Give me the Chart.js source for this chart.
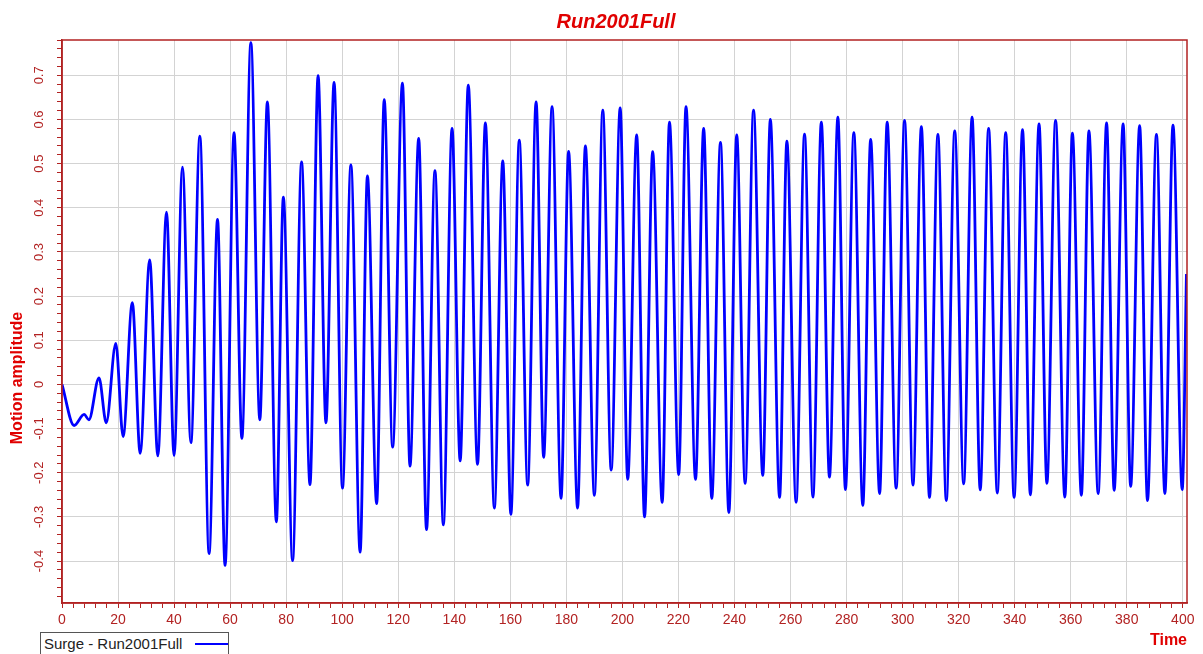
<!DOCTYPE html>
<html>
<head>
<meta charset="utf-8">
<title>Run2001Full</title>
<script src="https://cdn.jsdelivr.net/npm/chart.js@4.4.0/dist/chart.umd.min.js"></script>
<style>
  html, body { margin: 0; padding: 0; background: #fff; overflow: hidden; }
  #wrap { position: relative; width: 1203px; height: 654px; }
  #legend {
    position: absolute; left: 40px; top: 632px; width: 189px; height: 26px;
    border: 1px solid #555; background: #fff; box-sizing: border-box;
    font: 15px Arial, 'Liberation Sans', sans-serif; color: #222;
  }
  #legend .txt { position: absolute; left: 3px; top: 2px; line-height: 18px; white-space: nowrap; }
  #legend .swatch { position: absolute; left: 154px; top: 10px; width: 33px; height: 2px; }
</style>
</head>
<body>
<div id="wrap">
  <canvas id="myChart" width="1203" height="654"></canvas>
  <div id="legend"></div>
</div>
<script>
// time of each turning point of the surge trace, and its value there
const times = [
  0, 4.3, 7.9, 9.6, 13.2, 15.8, 19.2, 21.8, 25.1, 27.9,
  31.3, 34.2, 37.3, 40, 43, 46, 49.2, 52.5, 55.5, 58.2,
  61.4, 64.2, 67.4, 70.6, 73.3, 76.5, 79, 82.3, 85.5, 88.5,
  91.4, 94.2, 97.1, 100.1, 103.1, 106.4, 109, 112.3, 115, 118,
  121.5, 124.2, 127.3, 130.1, 133.1, 136.1, 139.2, 142.1, 145, 148.3,
  151.1, 154.3, 157.3, 160.2, 163.2, 166.2, 169.2, 171.9, 174.9, 178.1,
  180.8, 184, 186.8, 190, 193, 196, 199.2, 201.9, 205.1, 207.9,
  210.8, 214.2, 216.8, 220.1, 222.7, 226.1, 229, 231.9, 235, 238,
  240.8, 243.8, 246.8, 250.1, 252.8, 256.1, 258.7, 262, 265, 268,
  271, 273.9, 276.9, 279.6, 282.6, 285.8, 288.6, 291.8, 294.5, 297.7,
  300.7, 303.7, 306.7, 309.6, 312.6, 315.6, 318.6, 321.8, 324.8, 327.7,
  330.7, 333.8, 336.8, 339.8, 342.8, 345.6, 348.7, 351.5, 354.6, 357.9,
  360.6, 363.8, 366.5, 369.8, 372.8, 375.5, 378.7, 381.4, 384.6, 387.4,
  390.6, 393.6, 396.5, 399.8, 401.3
];
const surge = [
  0, -0.093, -0.068, -0.08, 0.015, -0.087, 0.093, -0.118, 0.185, -0.156,
  0.282, -0.162, 0.39, -0.161, 0.492, -0.132, 0.562, -0.383, 0.374, -0.41,
  0.57, -0.122, 0.774, -0.08, 0.64, -0.311, 0.424, -0.399, 0.504, -0.227,
  0.699, -0.087, 0.684, -0.235, 0.497, -0.38, 0.472, -0.27, 0.645, -0.142,
  0.682, -0.185, 0.557, -0.329, 0.484, -0.318, 0.58, -0.173, 0.678, -0.181,
  0.592, -0.28, 0.506, -0.294, 0.553, -0.228, 0.64, -0.165, 0.629, -0.258,
  0.528, -0.28, 0.54, -0.251, 0.621, -0.194, 0.626, -0.215, 0.565, -0.3,
  0.527, -0.267, 0.594, -0.204, 0.629, -0.215, 0.58, -0.258, 0.548, -0.29,
  0.565, -0.224, 0.621, -0.206, 0.6, -0.256, 0.551, -0.267, 0.567, -0.255,
  0.594, -0.21, 0.605, -0.238, 0.57, -0.274, 0.555, -0.247, 0.594, -0.235,
  0.598, -0.228, 0.584, -0.256, 0.566, -0.263, 0.574, -0.225, 0.605, -0.239,
  0.58, -0.246, 0.57, -0.256, 0.577, -0.25, 0.59, -0.224, 0.598, -0.255,
  0.569, -0.251, 0.574, -0.247, 0.592, -0.24, 0.59, -0.231, 0.586, -0.263,
  0.566, -0.247, 0.587, -0.238, 0.25
];

const fontFamily = "Arial, 'Liberation Sans', sans-serif";
const axisColor = '#b22222';
const titleColor = '#e00000';
const gridColor = '#d3d3d3';

const isMajorX = v => Math.abs(v / 20 - Math.round(v / 20)) < 1e-6;
const isMajorY = v => Math.abs(v * 10 - Math.round(v * 10)) < 1e-6;

// frame round the plot, chart title and y axis title
const framePlugin = {
  id: 'framePlugin',
  afterDraw(chart) {
    const {ctx, chartArea: a} = chart;
    ctx.save();
    ctx.strokeStyle = axisColor;
    ctx.lineWidth = 1.5;
    ctx.strokeRect(a.left, a.top, a.right - a.left, a.bottom - a.top);

    ctx.fillStyle = titleColor;
    ctx.textAlign = 'center';
    ctx.textBaseline = 'middle';
    ctx.font = 'italic bold 20px ' + fontFamily;
    ctx.fillText('Run2001Full', 616, 22);

    ctx.translate(18, 378);
    ctx.rotate(-Math.PI / 2);
    ctx.font = 'bold 16px ' + fontFamily;
    ctx.fillText('Motion amplitude', 0, 0);
    ctx.restore();
  }
};

const chart = new Chart('myChart', {
  type: 'line',
  data: {
    datasets: [{
      label: 'Surge - Run2001Full',
      data: times.map((t, i) => ({x: t, y: surge[i]})),
      borderColor: '#0000ff',
      borderWidth: 2.8,
      pointRadius: 0,
      cubicInterpolationMode: 'monotone',
      fill: false
    }]
  },
  options: {
    responsive: false,
    animation: false,
    devicePixelRatio: 1,
    events: [],
    layout: {padding: {top: 40, right: 16, left: 0, bottom: 0}},
    plugins: {
      legend: {display: false},
      tooltip: {enabled: false},
      title: {display: false}
    },
    scales: {
      x: {
        type: 'linear',
        min: 0,
        max: 401.5,
        afterFit: s => { s.height = 51; },
        border: {color: axisColor, width: 1.5},
        grid: {
          color: c => isMajorX(c.tick.value) ? gridColor : 'rgba(0,0,0,0)',
          tickColor: axisColor,
          tickLength: 5,
          lineWidth: 1
        },
        ticks: {
          stepSize: 4,
          autoSkip: false,
          includeBounds: false,
          maxRotation: 0,
          padding: 4,
          color: axisColor,
          font: {size: 14, family: fontFamily},
          callback: v => isMajorX(v) ? String(Math.round(v)) : ''
        },
        title: {
          display: true,
          text: 'Time',
          align: 'end',
          color: titleColor,
          font: {size: 16, weight: 'bold', family: fontFamily},
          padding: {top: 0, bottom: 4}
        }
      },
      y: {
        min: -0.495,
        max: 0.78,
        afterFit: s => { s.width = 62; },
        border: {color: axisColor, width: 1.5},
        grid: {
          color: c => isMajorY(c.tick.value) ? gridColor : 'rgba(0,0,0,0)',
          tickColor: axisColor,
          tickLength: 5,
          lineWidth: 1
        },
        ticks: {
          stepSize: 0.02,
          autoSkip: false,
          includeBounds: false,
          minRotation: 90,
          maxRotation: 90,
          crossAlign: 'center',
          padding: 6,
          color: axisColor,
          font: {size: 13, family: fontFamily},
          callback: v => isMajorY(v) ? String(Math.round(v * 10) / 10) : ''
        }
      }
    }
  },
  plugins: [framePlugin]
});

// legend box under the plot: label first, line sample after it
const ds = chart.data.datasets[0];
document.getElementById('legend').innerHTML =
  '<span class="txt">' + ds.label + '</span>' +
  '<span class="swatch" style="background:' + ds.borderColor + '"></span>';
</script>
</body>
</html>
